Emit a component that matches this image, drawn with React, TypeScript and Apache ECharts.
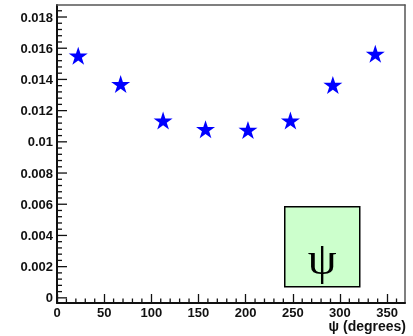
import React, { useEffect, useRef } from "react";
import * as echarts from "echarts";

// Azimuthal angle bin centres (degrees) and the measured distribution
const psiAngles = [22.5, 67.5, 112.5, 157.5, 202.5, 247.5, 292.5, 337.5];
const psiValues = [0.01552, 0.0137, 0.01136, 0.01081, 0.01076, 0.01136, 0.01365, 0.01564];

// Axis ticks
const yMajorTicks = [0, 0.002, 0.004, 0.006, 0.008, 0.01, 0.012, 0.014, 0.016, 0.018];
const yMinorTicks = [
  0.0004, 0.0008, 0.0012, 0.0016, 0.0024, 0.0028, 0.0032, 0.0036, 0.0044, 0.0048, 0.0052, 0.0056,
  0.0064, 0.0068, 0.0072, 0.0076, 0.0084, 0.0088, 0.0092, 0.0096, 0.0104, 0.0108, 0.0112, 0.0116,
  0.0124, 0.0128, 0.0132, 0.0136, 0.0144, 0.0148, 0.0152, 0.0156, 0.0164, 0.0168, 0.0172, 0.0176,
  0.0184,
];
const xMajorTicks = [0, 50, 100, 150, 200, 250, 300, 350];
const xMinorTicks = [
  10, 20, 30, 40, 60, 70, 80, 90, 110, 120, 130, 140, 160, 170, 180, 190, 210, 220, 230, 240,
  260, 270, 280, 290, 310, 320, 330, 340, 360,
];

const xTitle = "ψ (degrees)";
const boxLabel = "ψ";

const STAR =
  "path://M0,-100L22.45,-30.9L95.1,-30.9L36.33,11.8L58.8,80.9L0,38.2L-58.8,80.9L-36.33,11.8L-95.1,-30.9L-22.45,-30.9Z";

const FONT = "'Liberation Sans', Arial, Helvetica, sans-serif";
const Y_MIN = -0.00033;
const Y_MAX = 0.01877;
const X_MIN = 0;
const X_MAX = 369;
const INK = "#111";

// Inward tick marks: thin rectangles anchored on the axis lines
function yTickSeries(values: number[], len: number) {
  return {
    type: "scatter",
    clip: false,
    xAxisIndex: 0,
    yAxisIndex: 0,
    symbol: "rect",
    symbolSize: [len, 1.3],
    symbolOffset: [len / 2, 0],
    itemStyle: { color: INK, opacity: 1 },
    data: values.map((v) => [X_MIN, v]),
  };
}

function xTickSeries(values: number[], len: number) {
  return {
    type: "scatter",
    clip: false,
    xAxisIndex: 0,
    yAxisIndex: 0,
    symbol: "rect",
    symbolSize: [1.3, len],
    symbolOffset: [0, -len / 2],
    itemStyle: { color: INK, opacity: 1 },
    data: values.map((v) => [v, Y_MIN]),
  };
}

// Plain top / right frame edges
function frameAxis(position: string, min: number, max: number) {
  return {
    type: "value",
    position,
    min,
    max,
    axisLine: { show: true, onZero: false, lineStyle: { color: "#555", width: 1.5 } },
    axisTick: { show: false },
    axisLabel: { show: false },
    splitLine: { show: false },
  };
}

export default function App() {
  const ref = useRef<HTMLDivElement>(null);

  useEffect(() => {
    if (!ref.current) return;
    const chart = echarts.init(ref.current, null, { renderer: "svg" });

    const labelStyle = {
      color: INK,
      fontFamily: FONT,
      fontWeight: "bold" as const,
      fontSize: 13,
    };

    chart.setOption({
      animation: false,
      grid: { left: 57, top: 5, right: 8, bottom: 33 },
      xAxis: [
        {
          type: "value",
          min: X_MIN,
          max: X_MAX,
          position: "bottom",
          axisLine: { show: true, onZero: false, lineStyle: { color: INK, width: 2 } },
          axisTick: {
            show: true,
            inside: true,
            length: 9,
            customValues: xMajorTicks,
            lineStyle: { color: INK, width: 1.3 },
          },
          axisLabel: {
            ...labelStyle,
            margin: 3,
            lineHeight: 12,
            customValues: xMajorTicks,
            formatter: (v: number) => String(v),
          },
          splitLine: { show: false },
        },
        frameAxis("top", X_MIN, X_MAX),
      ],
      yAxis: [
        {
          type: "value",
          min: Y_MIN,
          max: Y_MAX,
          position: "left",
          axisLine: { show: true, onZero: false, lineStyle: { color: INK, width: 2 } },
          axisTick: { show: false },
          axisLabel: {
            ...labelStyle,
            margin: 4,
            customValues: yMajorTicks,
            formatter: (v: number) => String(parseFloat(v.toPrecision(6))),
          },
          splitLine: { show: false },
        },
        frameAxis("right", Y_MIN, Y_MAX),
      ],
      series: [
        xTickSeries(xMinorTicks, 4.5),
        yTickSeries(yMajorTicks, 10),
        yTickSeries(yMinorTicks, 5),
        {
          type: "scatter",
          xAxisIndex: 0,
          yAxisIndex: 0,
          symbol: STAR,
          symbolSize: [19, 18],
          itemStyle: { color: "#0000ff", opacity: 1 },
          data: psiAngles.map((a, i) => [a, psiValues[i]]),
          z: 5,
        },
      ],
      graphic: [
        {
          type: "text",
          right: 7,
          top: 319,
          style: {
            text: xTitle,
            fill: INK,
            font: `bold 14px ${FONT}`,
            lineHeight: 14,
          },
        },
        {
          type: "group",
          left: 284,
          top: 206,
          children: [
            {
              type: "rect",
              shape: { x: 0, y: 0, width: 75, height: 80 },
              style: { fill: "#ccffcc", stroke: "#000", lineWidth: 1.5 },
            },
            {
              type: "text",
              x: 37.5,
              y: 52,
              style: {
                text: boxLabel,
                fill: "#000",
                font: "46px 'Liberation Serif', 'DejaVu Serif', serif",
                align: "center",
                verticalAlign: "middle",
              },
            },
          ],
        },
      ],
    });

    return () => chart.dispose();
  }, []);

  return (
    <div
      ref={ref}
      style={{ position: "fixed", left: 0, top: 0, width: 413, height: 336 }}
    />
  );
}
